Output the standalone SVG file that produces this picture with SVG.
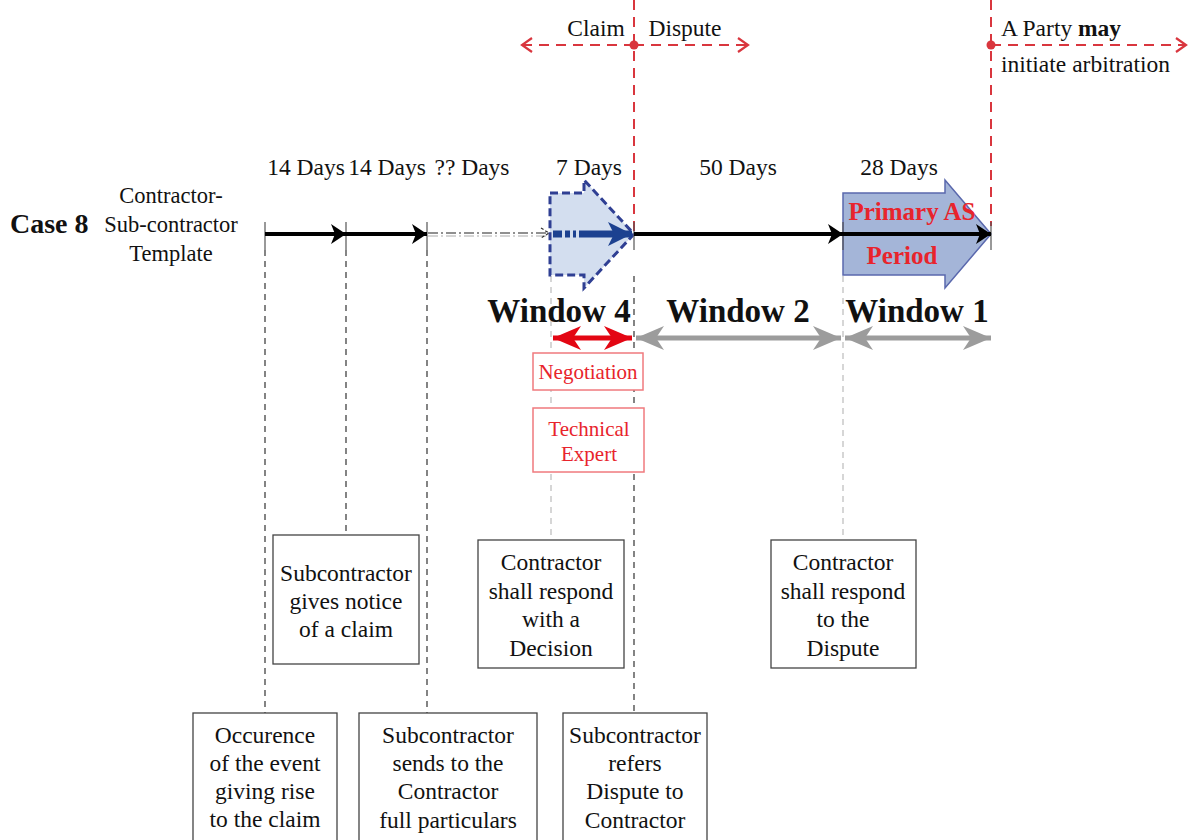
<svg xmlns="http://www.w3.org/2000/svg" width="1190" height="840" viewBox="0 0 1190 840">
  <defs>
    <style>
      text { font-family: "Liberation Serif", "Times New Roman", serif; fill: #111; }
      .lbl { font-size: 23.5px; text-anchor: middle; }
      .side { font-size: 22.5px; text-anchor: middle; }
      .win { font-size: 33px; font-weight: bold; text-anchor: middle; }
      .red { fill: #e8242c; }
      .box { fill: #fff; stroke: #444; stroke-width: 1.3; }
      .rbox { fill: #fff; stroke: #f07a7e; stroke-width: 1.5; }
      .tick { stroke: #555; stroke-width: 1.2; }
      .vdash { stroke: #333; stroke-width: 1.2; stroke-dasharray: 6 5; fill: none; }
      .vlight { stroke: #bbb; stroke-width: 1.2; stroke-dasharray: 6 5; fill: none; }
      .reddash { stroke: #d9363e; stroke-width: 2; stroke-dasharray: 10 7; fill: none; }
      .tl { stroke: #000; stroke-width: 4; fill: none; }
    </style>
    <marker id="blk" markerUnits="userSpaceOnUse" markerWidth="18" markerHeight="24" refX="15" refY="12" orient="auto">
      <path d="M0,2 L15,12 L0,22 L4,12 Z" fill="#000"/>
    </marker>
    <marker id="redOpen" markerUnits="userSpaceOnUse" markerWidth="14" markerHeight="18" refX="12" refY="9" orient="auto-start-reverse">
      <path d="M2,2 L12,9 L2,16" fill="none" stroke="#d9363e" stroke-width="2.2"/>
    </marker>
    <marker id="thinOpen" markerUnits="userSpaceOnUse" markerWidth="12" markerHeight="14" refX="10" refY="7" orient="auto">
      <path d="M2,2 L10,7 L2,12" fill="none" stroke="#333" stroke-width="1.2" stroke-dasharray="3 2"/>
    </marker>
    <marker id="greyHead" markerUnits="userSpaceOnUse" markerWidth="30" markerHeight="28" refX="28" refY="14" orient="auto-start-reverse">
      <path d="M0,2 L28,14 L0,26 L8,14 Z" fill="#9c9c9c"/>
    </marker>
    <marker id="redHead" markerUnits="userSpaceOnUse" markerWidth="30" markerHeight="28" refX="28" refY="14" orient="auto-start-reverse">
      <path d="M0,2 L28,14 L0,26 L8,14 Z" fill="#e30613"/>
    </marker>
    <marker id="blueHead" markerUnits="userSpaceOnUse" markerWidth="26" markerHeight="28" refX="24" refY="14" orient="auto">
      <path d="M0,2 L24,14 L0,26 L6,14 Z" fill="#1c4190"/>
    </marker>
  </defs>

  <rect width="1190" height="840" fill="#fff"/>

  <!-- heading on the left -->
  <g id="case-label">
    <text x="10" y="233" style="font-size:28px;font-weight:bold">Case 8</text>
    <text class="side" x="171" y="203">Contractor-</text>
    <text class="side" x="171" y="232">Sub-contractor</text>
    <text class="side" x="171" y="261">Template</text>
  </g>

  <!-- period lengths -->
  <g id="durations">
    <text class="lbl" x="306" y="175">14 Days</text>
    <text class="lbl" x="387" y="175">14 Days</text>
    <text class="lbl" x="472" y="175">?? Days</text>
    <text class="lbl" x="589" y="175">7 Days</text>
    <text class="lbl" x="738" y="175">50 Days</text>
    <text class="lbl" x="899" y="175">28 Days</text>
  </g>

  <!-- claim / dispute split and arbitration marker -->
  <g id="claim-dispute">
    <line class="reddash" x1="634" y1="0" x2="634" y2="234"/>
    <line class="reddash" x1="634" y1="45" x2="522" y2="45" marker-end="url(#redOpen)"/>
    <line class="reddash" x1="634" y1="45" x2="748" y2="45" marker-end="url(#redOpen)"/>
    <circle cx="634" cy="45" r="4.5" fill="#d9363e"/>
    <text class="lbl" x="596" y="36">Claim</text>
    <text class="lbl" x="685" y="36">Dispute</text>
  </g>
  <g id="arbitration">
    <line class="reddash" x1="991" y1="0" x2="991" y2="226"/>
    <line class="reddash" x1="991" y1="45" x2="1186" y2="45" marker-end="url(#redOpen)"/>
    <circle cx="991" cy="45" r="4.5" fill="#d9363e"/>
    <text x="1001" y="36" style="font-size:23.5px">A Party <tspan font-weight="bold">may</tspan></text>
    <text x="1001" y="72" style="font-size:23.5px">initiate arbitration</text>
  </g>

  <!-- guide lines down to the event boxes -->
  <g id="guides">
    <line class="vdash" x1="265" y1="250" x2="265" y2="713"/>
    <line class="vdash" x1="346" y1="250" x2="346" y2="535"/>
    <line class="vdash" x1="427" y1="250" x2="427" y2="713"/>
    <line class="vlight" x1="551" y1="276" x2="551" y2="540"/>
    <line class="vdash" x1="634" y1="276" x2="634" y2="713"/>
    <line class="vlight" x1="843" y1="276" x2="843" y2="540"/>
  </g>

  <!-- block arrows behind the timeline -->
  <g id="window4-block">
    <path d="M550,193 L584,193 L584,180 L634,234 L584,288 L584,275 L550,275 Z" fill="#d3deef" stroke="#2f3f93" stroke-width="3" stroke-dasharray="8 4"/>
  </g>
  <g id="primary-as-period">
    <path d="M843,193 L945,193 L945,180 L991,234 L945,288 L945,275 L843,275 Z" fill="#a4b5d8" stroke="#5a68ad" stroke-width="1.5"/>
  </g>

  <!-- ticks -->
  <g id="ticks">
    <line class="tick" x1="265" y1="222" x2="265" y2="250"/>
    <line class="tick" x1="346" y1="222" x2="346" y2="250"/>
    <line class="tick" x1="427" y1="222" x2="427" y2="250"/>
    <line class="tick" x1="634" y1="222" x2="634" y2="250"/>
    <line class="tick" x1="843" y1="222" x2="843" y2="250"/>
    <line class="tick" x1="991" y1="222" x2="991" y2="250"/>
  </g>

  <!-- timeline segments -->
  <g id="connectors">
    <line class="tl" x1="265" y1="234" x2="346" y2="234" marker-end="url(#blk)"/>
    <line class="tl" x1="346" y1="234" x2="427" y2="234" marker-end="url(#blk)"/>
    <line x1="428" y1="236" x2="548" y2="236" stroke="#c8c8c8" stroke-width="1.5" stroke-dasharray="10 3 2 3"/>
    <line x1="428" y1="233" x2="549" y2="233" stroke="#222" stroke-width="1.2" stroke-dasharray="10 3 2 3" marker-end="url(#thinOpen)"/>
    <path d="M553,234 H562 M565,234 H570 M573,234 H576 M579,234 H632" stroke="#1c4190" stroke-width="7" fill="none" marker-end="url(#blueHead)"/>
    <line class="tl" x1="634" y1="234" x2="843" y2="234" marker-end="url(#blk)"/>
    <line class="tl" x1="843" y1="234" x2="991" y2="234" marker-end="url(#blk)"/>

    <line x1="553" y1="338" x2="632" y2="338" stroke="#e30613" stroke-width="5" marker-start="url(#redHead)" marker-end="url(#redHead)"/>
    <line x1="636" y1="338" x2="841" y2="338" stroke="#9c9c9c" stroke-width="5" marker-start="url(#greyHead)" marker-end="url(#greyHead)"/>
    <line x1="845" y1="338" x2="991" y2="338" stroke="#9c9c9c" stroke-width="5" marker-start="url(#greyHead)" marker-end="url(#greyHead)"/>
  </g>

  <g id="primary-as-label">
    <text x="912" y="220" style="font-size:25px;font-weight:bold;text-anchor:middle" class="red">Primary AS</text>
    <text x="902" y="264" style="font-size:25px;font-weight:bold;text-anchor:middle" class="red">Period</text>
  </g>

  <!-- window titles -->
  <g id="windows">
    <text class="win" x="559" y="322">Window 4</text>
    <text class="win" x="738" y="322">Window 2</text>
    <text class="win" x="917" y="322">Window 1</text>
  </g>

  <!-- window 4 procedures -->
  <g id="negotiation">
    <rect class="rbox" x="533" y="353" width="110" height="37"/>
    <text class="lbl red" x="588" y="379" style="font-size:21px">Negotiation</text>
  </g>
  <g id="technical-expert">
    <rect class="rbox" x="533" y="408" width="111" height="64"/>
    <text class="lbl red" x="589" y="436" style="font-size:21px">Technical</text>
    <text class="lbl red" x="589" y="461" style="font-size:21px">Expert</text>
  </g>

  <!-- event boxes -->
  <g id="notice-of-claim">
    <rect class="box" x="273" y="535" width="146" height="129"/>
    <text class="lbl" x="346" y="581">Subcontractor</text>
    <text class="lbl" x="346" y="609">gives notice</text>
    <text class="lbl" x="346" y="637">of a claim</text>
  </g>
  <g id="decision">
    <rect class="box" x="478" y="540" width="146" height="128"/>
    <text class="lbl" x="551" y="570">Contractor</text>
    <text class="lbl" x="551" y="599">shall respond</text>
    <text class="lbl" x="551" y="627">with a</text>
    <text class="lbl" x="551" y="656">Decision</text>
  </g>
  <g id="respond-dispute">
    <rect class="box" x="771" y="540" width="145" height="128"/>
    <text class="lbl" x="843" y="570">Contractor</text>
    <text class="lbl" x="843" y="599">shall respond</text>
    <text class="lbl" x="843" y="627">to the</text>
    <text class="lbl" x="843" y="656">Dispute</text>
  </g>
  <g id="occurrence">
    <rect class="box" x="193" y="713" width="144" height="135"/>
    <text class="lbl" x="265" y="743">Occurence</text>
    <text class="lbl" x="265" y="771">of the event</text>
    <text class="lbl" x="265" y="799">giving rise</text>
    <text class="lbl" x="265" y="827">to the claim</text>
  </g>
  <g id="full-particulars">
    <rect class="box" x="359" y="713" width="178" height="135"/>
    <text class="lbl" x="448" y="743">Subcontractor</text>
    <text class="lbl" x="448" y="771">sends to the</text>
    <text class="lbl" x="448" y="799">Contractor</text>
    <text class="lbl" x="448" y="828">full particulars</text>
  </g>
  <g id="refers-dispute">
    <rect class="box" x="563" y="713" width="144" height="135"/>
    <text class="lbl" x="635" y="743">Subcontractor</text>
    <text class="lbl" x="635" y="771">refers</text>
    <text class="lbl" x="635" y="799">Dispute to</text>
    <text class="lbl" x="635" y="828">Contractor</text>
  </g>
</svg>
